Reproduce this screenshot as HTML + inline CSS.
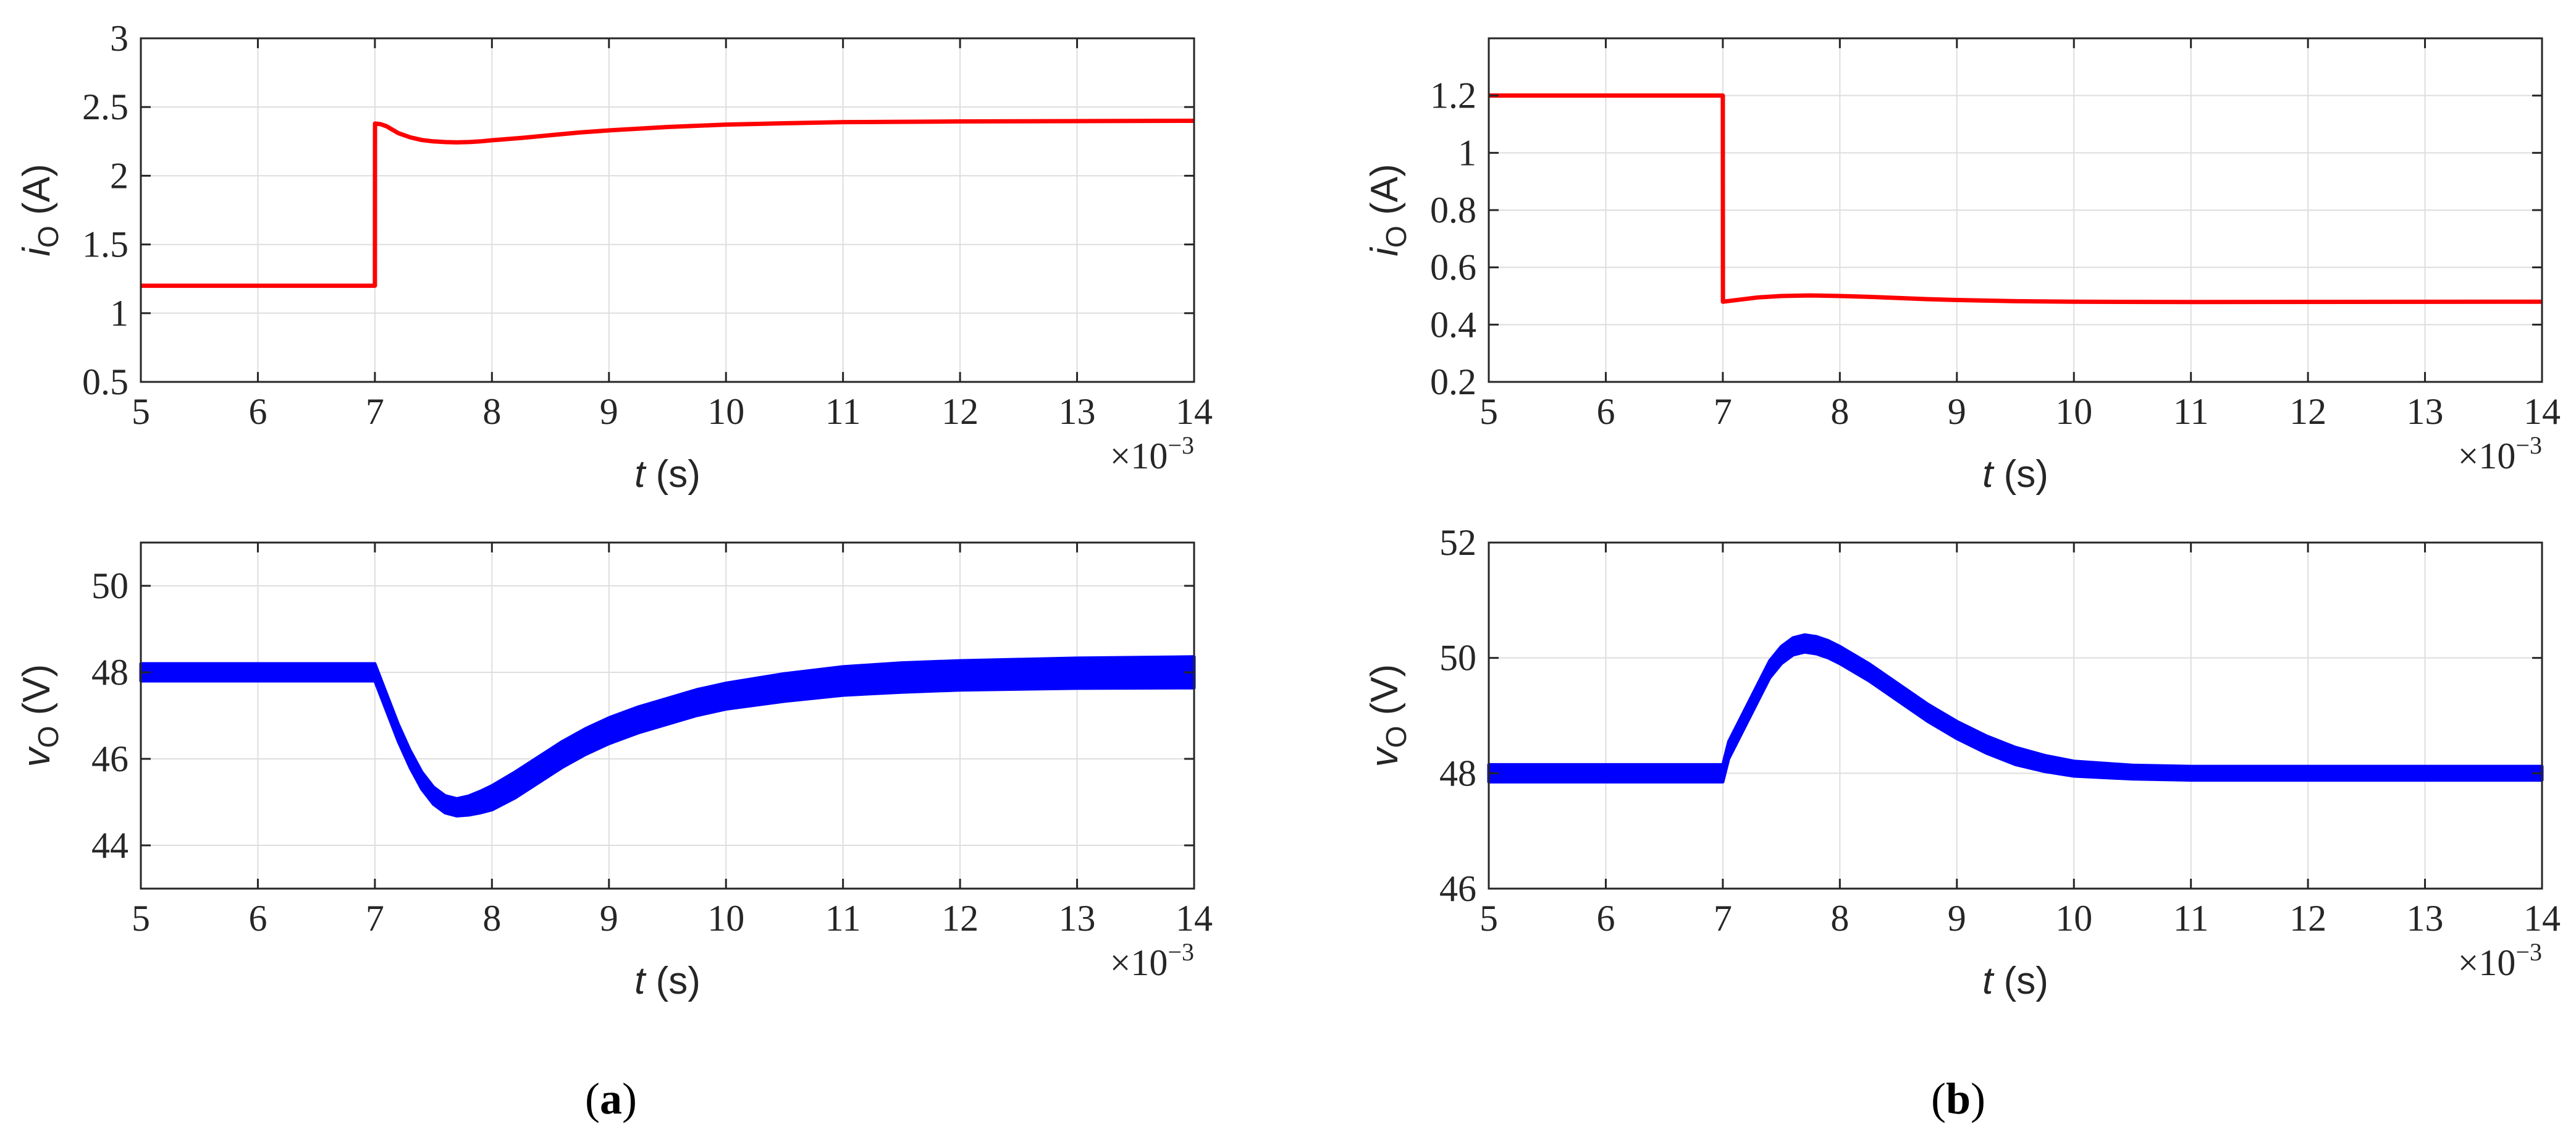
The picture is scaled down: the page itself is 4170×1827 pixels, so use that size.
<!DOCTYPE html>
<html><head><meta charset="utf-8"><style>
html,body{margin:0;padding:0;background:#fff;}
svg{display:block;}
.tk{font-family:"Liberation Serif",serif;font-size:60px;fill:#262626;}
.lb{font-family:"Liberation Sans",sans-serif;font-size:62px;fill:#262626;}
.cap{font-family:"Liberation Serif",serif;font-size:72px;fill:#000;}
</style></head><body>
<svg id="fig" width="4170" height="1827" viewBox="0 0 4170 1827" xmlns="http://www.w3.org/2000/svg"></svg>
<script>
const xTicks=[5,6,7,8,9,10,11,12,13,14];
// (a) current
const ia_t=[5,7,7.001,7.05,7.1,7.2,7.3,7.4,7.5,7.6,7.7,7.8,7.9,8,8.25,8.5,8.75,9,9.5,10,10.5,11,12,14];
const ia_v=[1.2,1.2,2.38,2.375,2.36,2.31,2.28,2.26,2.25,2.245,2.243,2.245,2.25,2.258,2.275,2.295,2.315,2.33,2.355,2.372,2.382,2.39,2.395,2.4];
const ia_ticks=[0.5,1,1.5,2,2.5,3];
const ia_labels=["0.5","1","1.5","2","2.5","3"];
// (b) current
const ib_t=[5,7,7.001,7.1,7.3,7.5,7.75,8,8.25,8.5,8.75,9,9.5,10,11,14];
const ib_v=[1.2,1.2,0.48,0.485,0.495,0.5,0.502,0.5,0.497,0.493,0.489,0.486,0.482,0.48,0.479,0.48];
const ib_ticks=[0.2,0.4,0.6,0.8,1,1.2];
const ib_labels=["0.2","0.4","0.6","0.8","1","1.2"];
// (a) voltage
const va_t=[5,7,7.1,7.2,7.3,7.4,7.5,7.6,7.7,7.8,7.9,8,8.2,8.4,8.6,8.8,9,9.25,9.5,9.75,10,10.5,11,11.5,12,13,14];
const va_v=[48.0,48.0,47.3,46.6,46.0,45.5,45.15,44.95,44.88,44.92,45.0,45.1,45.4,45.75,46.1,46.4,46.65,46.9,47.1,47.3,47.45,47.65,47.8,47.88,47.93,47.98,48.0];
const va_h=[0.2,0.2,0.2,0.2,0.2,0.2,0.2,0.2,0.2,0.22,0.25,0.28,0.3,0.3,0.3,0.3,0.3,0.3,0.3,0.3,0.3,0.32,0.33,0.34,0.34,0.35,0.36];
const va_ticks=[44,46,48,50];
const va_labels=["44","46","48","50"];
// (b) voltage
const vb_t=[5,7,7.05,7.1,7.2,7.3,7.4,7.5,7.6,7.7,7.8,7.9,8,8.25,8.5,8.75,9,9.25,9.5,9.75,10,10.5,11,12,14];
const vb_v=[48.0,48.0,48.4,48.6,49.0,49.4,49.8,50.05,50.2,50.25,50.22,50.15,50.05,49.75,49.4,49.05,48.75,48.5,48.3,48.17,48.08,48.02,48.0,48.0,48.0];
const vb_h=[0.15,0.15,0.15,0.15,0.15,0.15,0.15,0.15,0.15,0.15,0.15,0.15,0.15,0.15,0.15,0.15,0.15,0.15,0.15,0.14,0.13,0.12,0.12,0.12,0.12];
const vb_ticks=[46,48,50,52];
const vb_labels=["46","48","50","52"];

const svg=document.getElementById('fig');
const NS="http://www.w3.org/2000/svg";
function mk(tag,attrs,parent){const e=document.createElementNS(NS,tag);for(const k in attrs)e.setAttribute(k,attrs[k]);(parent||svg).appendChild(e);return e;}

function panel(o){
  const g=mk('g',{});
  
  
  const X=t=>o.x0+(t-5)/(14-5)*(o.x1-o.x0);
  const Y=v=>o.y1-(v-o.ymin)/(o.ymax-o.ymin)*(o.y1-o.y0);
  xTicks.forEach(t=>{const l=mk('line',{x1:X(t),x2:X(t),y1:o.y0,y2:o.y1,stroke:'#dedede','stroke-width':2},g);
    });
  o.yt.forEach(v=>{const l=mk('line',{x1:o.x0,x2:o.x1,y1:Y(v),y2:Y(v),stroke:'#dedede','stroke-width':2},g);
    });
  if(o.h){
    let pts=[];
    for(let i=0;i<o.t.length;i++)pts.push(X(o.t[i])+','+Y(o.v[i]+o.h[i]));
    for(let i=o.t.length-1;i>=0;i--)pts.push(X(o.t[i])+','+Y(o.v[i]-o.h[i]));
    const p=mk('polygon',{points:pts.join(' '),fill:'#0000ff',stroke:'#0000ff','stroke-width':5,'stroke-linejoin':'round'},g);
    
  }else{
    const pts=o.t.map((t,i)=>X(t)+','+Y(o.v[i])).join(' ');
    const p=mk('polyline',{points:pts,fill:'none',stroke:'#ff0000','stroke-width':7,'stroke-linejoin':'round'},g);
    
  }
  const b=mk('rect',{x:o.x0,y:o.y0,width:o.x1-o.x0,height:o.y1-o.y0,fill:'none',stroke:'#262626','stroke-width':3},g);
  
  xTicks.forEach(t=>{
    mk('line',{x1:X(t),x2:X(t),y1:o.y1,y2:o.y1-16,stroke:'#262626','stroke-width':3},g);
    mk('line',{x1:X(t),x2:X(t),y1:o.y0,y2:o.y0+16,stroke:'#262626','stroke-width':3},g);
    const tx=mk('text',{x:X(t),y:o.y1+68,'text-anchor':'middle',class:'tk'},g);tx.textContent=t;
    
  });
  o.yt.forEach((v,i)=>{
    mk('line',{x1:o.x0,x2:o.x0+16,y1:Y(v),y2:Y(v),stroke:'#262626','stroke-width':3},g);
    mk('line',{x1:o.x1,x2:o.x1-16,y1:Y(v),y2:Y(v),stroke:'#262626','stroke-width':3},g);
    const tx=mk('text',{x:o.x0-20,y:Y(v)+20,'text-anchor':'end',class:'tk'},g);tx.textContent=o.yl[i];
    
  });
  const xl=mk('text',{x:(o.x0+o.x1)/2,y:o.y1+170,'text-anchor':'middle',class:'lb'},g);
  xl.innerHTML='<tspan font-style="italic">t</tspan> (s)';
  
  const ex=mk('text',{x:o.x1,y:o.y1+140,'text-anchor':'end',class:'tk','font-size':'54'},g);
  ex.innerHTML='×10<tspan dy="-24" font-size="40">−3</tspan>';
  
  const cy=(o.y0+o.y1)/2, lx=o.ylx;
  const yl=mk('text',{x:lx,y:cy,'text-anchor':'middle',class:'lb',transform:`rotate(-90 ${lx} ${cy})`},g);
  yl.innerHTML=`<tspan font-style="italic">${o.ysym}</tspan><tspan dy="14" font-size="46">O</tspan><tspan dy="-14"> (${o.unit})</tspan>`;
  
}
panel({name:'panel-a-current',x0:228,x1:1933,y0:62,y1:618,ymin:0.5,ymax:3,yt:ia_ticks,yl:ia_labels,t:ia_t,v:ia_v,ylx:80,ysym:'i',unit:'A'});
panel({name:'panel-a-voltage',x0:228,x1:1933,y0:878,y1:1438,ymin:43,ymax:51,yt:va_ticks,yl:va_labels,t:va_t,v:va_v,h:va_h,ylx:80,ysym:'v',unit:'V'});
panel({name:'panel-b-current',x0:2410,x1:4115,y0:62,y1:618,ymin:0.2,ymax:1.4,yt:ib_ticks,yl:ib_labels,t:ib_t,v:ib_v,ylx:2262,ysym:'i',unit:'A'});
panel({name:'panel-b-voltage',x0:2410,x1:4115,y0:878,y1:1438,ymin:46,ymax:52,yt:vb_ticks,yl:vb_labels,t:vb_t,v:vb_v,h:vb_h,ylx:2262,ysym:'v',unit:'V'});
const ca=mk('text',{x:989,y:1802,'text-anchor':'middle',class:'cap'});ca.innerHTML='(<tspan font-weight="bold">a</tspan>)';


const cb=mk('text',{x:3170,y:1802,'text-anchor':'middle',class:'cap'});cb.innerHTML='(<tspan font-weight="bold">b</tspan>)';


</script>
</body></html>
